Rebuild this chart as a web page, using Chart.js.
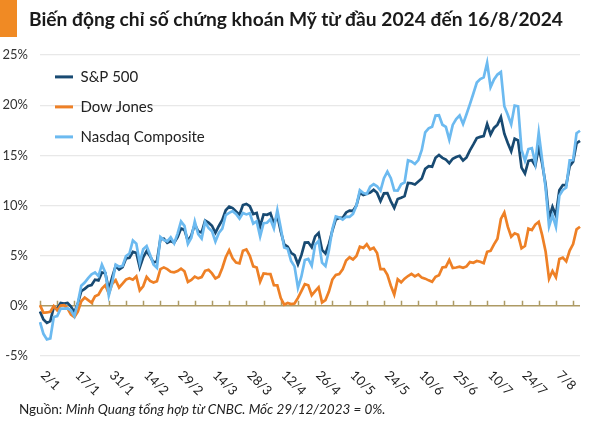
<!DOCTYPE html>
<html>
<head>
<meta charset="utf-8">
<style>
	html, body { margin: 0; padding: 0; background: #fff; }
	body { width: 602px; height: 422px; position: relative; overflow: hidden; font-family: Lato, "Noto Sans", sans-serif; }
	.wrap { position: absolute; left: 0; top: 0; width: 602px; height: 422px; }
	.bar { position: absolute; left: 0; top: 0; width: 17px; height: 37px; background: #f08a24; }
	.title { position: absolute; left: 29px; top: 7px; font-size: 19.2px; font-weight: 700; color: #1a1a1a; white-space: nowrap; }
	.note { position: absolute; left: 19px; top: 401px; font-size: 13.5px; color: #222; white-space: nowrap; }
</style>
</head>
<body>
<div class="wrap"><canvas id="chart"></canvas></div>
<div class="bar"></div>
<div class="title">Biến động chỉ số chứng khoán Mỹ từ đầu 2024 đến 16/8/2024</div>
<div class="note">Nguồn: <i>Minh Quang tổng hợp từ CNBC. Mốc 29/12/2023 = 0%.</i></div>

<script src="https://cdn.jsdelivr.net/npm/chart.js"></script>
<script>
	// trading days of 2024, by month
	var tradingDays = {
		1: [2, 3, 4, 5, 8, 9, 10, 11, 12, 16, 17, 18, 19, 22, 23, 24, 25, 26, 29, 30, 31],
		2: [1, 2, 5, 6, 7, 8, 9, 12, 13, 14, 15, 16, 20, 21, 22, 23, 26, 27, 28, 29],
		3: [1, 4, 5, 6, 7, 8, 11, 12, 13, 14, 15, 18, 19, 20, 21, 22, 25, 26, 27, 28],
		4: [1, 2, 3, 4, 5, 8, 9, 10, 11, 12, 15, 16, 17, 18, 19, 22, 23, 24, 25, 26, 29, 30],
		5: [1, 2, 3, 6, 7, 8, 9, 10, 13, 14, 15, 16, 17, 20, 21, 22, 23, 24, 28, 29, 30, 31],
		6: [3, 4, 5, 6, 7, 10, 11, 12, 13, 14, 17, 18, 20, 21, 24, 25, 26, 27, 28],
		7: [1, 2, 3, 5, 8, 9, 10, 11, 12, 15, 16, 17, 18, 19, 22, 23, 24, 25, 26, 29, 30, 31],
		8: [1, 2, 5, 6, 7, 8, 9, 12, 13, 14, 15, 16]
	};
	var labels = [];
	for (var m = 1; m <= 8; m++) {
		tradingDays[m].forEach(function (d) { labels.push(d + '/' + m); });
	}

	var labelEvery = 10; // date label every 10 sessions
	var markEvery = 5;   // small tick every 5 sessions

	// % change vs 29/12/2023
	var sp500 = [
		-0.57, -1.36, -1.70, -1.52, -0.13, -0.28, 0.29, 0.22, 0.29, -0.08,
		-0.64, 0.23, 1.47, 1.69, 1.99, 2.07, 2.61, 2.54, 3.32, 3.25,
		1.59, 2.86, 3.96, 3.63, 3.87, 4.72, 4.78, 5.38, 5.28, 3.84,
		4.84, 5.45, 4.94, 4.31, 4.44, 6.65, 6.69, 6.28, 6.46, 6.29,
		6.84, 7.70, 7.57, 6.47, 7.02, 8.12, 7.42, 7.30, 8.50, 8.29,
		7.98, 7.28, 7.96, 8.57, 9.53, 9.89, 9.74, 9.40, 9.09, 10.04,
		10.16, 9.94, 9.14, 9.26, 7.91, 9.11, 9.07, 9.23, 8.19, 9.00,
		7.41, 6.12, 5.90, 5.29, 5.06, 4.14, 5.05, 6.30, 6.33, 5.84,
		6.92, 7.26, 5.57, 5.21, 6.17, 7.50, 8.61, 8.76, 8.76, 9.31,
		9.49, 9.47, 10.00, 11.29, 11.05, 11.18, 11.29, 11.56, 11.26, 10.44,
		11.21, 11.24, 10.42, 9.76, 10.64, 10.77, 10.93, 12.25, 12.22, 12.10,
		12.39, 12.69, 13.65, 13.92, 13.87, 14.75, 15.04, 14.75, 14.57, 14.22,
		14.66, 14.84, 14.95, 14.48, 14.79, 15.50, 16.09, 16.72, 16.84, 16.92,
		18.12, 17.08, 17.73, 18.06, 18.81, 17.16, 16.24, 15.41, 16.66, 16.48,
		13.78, 13.19, 14.45, 14.54, 13.97, 15.78, 14.19, 12.09, 8.73, 9.86,
		9.01, 11.52, 12.04, 12.05, 13.93, 14.37, 16.21, 16.45
	];
	var dowJones = [
		0.07, -0.69, -0.66, -0.59, -0.02, -0.44, 0.02, 0.06, -0.26, -0.87,
		-1.12, -0.59, 0.46, 0.83, 0.57, 0.31, 0.95, 1.11, 1.71, 2.06,
		1.22, 2.20, 2.56, 1.83, 2.21, 2.62, 2.75, 2.61, 2.94, 1.55,
		1.95, 2.88, 2.49, 2.32, 2.45, 3.66, 3.83, 3.66, 3.40, 3.34,
		3.47, 3.71, 3.45, 2.38, 2.58, 2.92, 2.74, 2.86, 3.49, 3.59,
		3.23, 2.72, 2.92, 3.77, 4.84, 5.55, 4.74, 4.31, 4.23, 5.49,
		5.62, 4.98, 3.93, 3.82, 2.41, 3.22, 3.19, 3.17, 2.05, 2.04,
		0.78, 0.12, 0.29, 0.17, 0.23, 0.79, 1.46, 2.16, 2.05, 1.05,
		1.46, 1.85, 0.34, 0.57, 1.42, 2.62, 3.09, 3.17, 3.63, 4.51,
		4.84, 4.62, 4.96, 5.89, 5.78, 6.14, 5.62, 5.79, 5.26, 3.65,
		3.66, 3.09, 2.00, 1.12, 2.65, 2.34, 2.71, 2.97, 3.18, 2.94,
		3.13, 2.81, 2.71, 2.54, 2.39, 2.89, 3.04, 3.83, 3.88, 4.57,
		3.77, 3.82, 3.91, 3.79, 3.93, 4.36, 4.29, 4.47, 4.39, 4.25,
		5.39, 5.48, 6.13, 6.69, 8.66, 9.31, 7.89, 6.89, 7.23, 7.08,
		5.74, 5.96, 7.69, 7.56, 8.10, 8.37, 7.05, 5.43, 2.69, 3.47,
		2.85, 4.66, 4.80, 4.43, 5.51, 6.15, 7.62, 7.88
	];
	var nasdaq = [
		-1.63, -2.79, -3.34, -3.25, -1.12, -1.02, -0.28, -0.27, -0.26, -0.45,
		-1.04, 0.30, 2.00, 2.32, 2.76, 3.13, 3.33, 2.96, 4.11, 3.32,
		1.02, 2.33, 4.11, 3.90, 3.98, 4.96, 5.21, 6.52, 6.20, 4.29,
		5.65, 5.96, 5.09, 4.13, 3.79, 6.86, 6.56, 6.43, 6.82, 6.24,
		7.20, 8.42, 7.97, 6.18, 6.79, 8.41, 7.15, 6.71, 8.36, 7.77,
		7.44, 6.41, 7.27, 7.70, 9.05, 9.26, 9.44, 9.15, 8.69, 9.25,
		9.11, 9.23, 8.19, 8.43, 6.91, 8.24, 8.28, 8.63, 7.72, 9.53,
		7.75, 5.82, 5.69, 4.48, 3.93, 1.80, 2.93, 4.56, 4.67, 4.00,
		6.11, 6.47, 4.31, 3.96, 5.53, 7.63, 8.91, 8.80, 8.60, 8.89,
		8.86, 9.17, 9.99, 11.53, 11.24, 11.15, 11.88, 12.13, 11.92, 11.49,
		12.72, 13.38, 12.72, 11.50, 11.48, 12.11, 12.30, 14.50, 14.40, 14.14,
		14.53, 15.53, 17.30, 17.69, 17.84, 18.96, 18.99, 18.05, 17.84, 16.56,
		18.03, 18.61, 18.97, 18.13, 19.10, 20.10, 21.16, 22.26, 22.60, 22.77,
		24.22, 21.80, 22.56, 23.05, 23.30, 19.89, 19.05, 18.09, 19.96, 19.89,
		15.53, 14.46, 15.63, 15.71, 14.23, 17.24, 14.54, 11.76, 7.92, 9.03,
		7.89, 10.98, 11.55, 11.79, 14.50, 14.53, 17.21, 17.45
	];

	Chart.defaults.font.family = 'Lato, "Noto Sans", sans-serif';

	// zero line with small tick marks, and slanted date labels under the plot
	var axisPlugin = {
		id: 'axisPlugin',
		beforeDatasetsDraw: function (chart) {
			var ctx = chart.ctx, xs = chart.scales.x, ys = chart.scales.y, a = chart.chartArea;
			var y0 = ys.getPixelForValue(0);
			ctx.save();
			ctx.strokeStyle = '#ad9a64';
			ctx.lineWidth = 1.5;
			ctx.beginPath();
			ctx.moveTo(a.left, y0);
			ctx.lineTo(a.right, y0);
			for (var i = 0; i < labels.length; i += markEvery) {
				var px = Math.round(xs.getPixelForValue(i)) + 0.5;
				ctx.moveTo(px, y0);
				ctx.lineTo(px, y0 - 5);
			}
			ctx.stroke();
			ctx.restore();
		},
		afterDraw: function (chart) {
			var ctx = chart.ctx, xs = chart.scales.x, a = chart.chartArea;
			ctx.save();
			ctx.fillStyle = '#222';
			ctx.font = '13px Lato, "Noto Sans", sans-serif';
			ctx.textAlign = 'left';
			ctx.textBaseline = 'middle';
			for (var i = 0; i < labels.length; i += labelEvery) {
				ctx.save();
				ctx.translate(xs.getPixelForValue(i) + 3, a.bottom + 17);
				ctx.rotate(Math.PI / 4);
				ctx.fillText(labels[i], 0, 0);
				ctx.restore();
			}
			ctx.restore();
		}
	};

	new Chart(document.getElementById('chart'), {
		type: 'line',
		data: {
			labels: labels,
			datasets: [
				{ label: 'S&P 500', data: sp500, borderColor: '#184a72', backgroundColor: '#184a72', order: 3 },
				{ label: 'Dow Jones', data: dowJones, borderColor: '#ee8026', backgroundColor: '#ee8026', order: 2 },
				{ label: 'Nasdaq Composite', data: nasdaq, borderColor: '#6cbaf0', backgroundColor: '#6cbaf0', order: 1 }
			]
		},
		options: {
			responsive: true,
			maintainAspectRatio: false,
			animation: false,
			events: [],
			layout: { padding: { left: 0, right: 22, top: 55, bottom: 66 } },
			elements: {
				line: { borderWidth: 2.7, tension: 0, fill: false },
				point: { radius: 0 }
			},
			scales: {
				x: {
					type: 'category',
					offset: false,
					ticks: { display: false },
					grid: { display: false, drawTicks: false, tickLength: 0 },
					border: { display: false }
				},
				y: {
					min: -5,
					max: 25,
					afterFit: function (s) { s.width = 40; },
					ticks: {
						stepSize: 5,
						padding: 12,
						color: '#333',
						font: { size: 13 },
						callback: function (v) { return v + '%'; }
					},
					grid: {
						drawTicks: false,
						lineWidth: 1.3,
						color: function (c) { return c.tick && c.tick.value === 0 ? 'rgba(0,0,0,0)' : '#e8e8e8'; }
					},
					border: { display: false }
				}
			},
			plugins: {
				tooltip: { enabled: false },
				legend: {
					position: 'chartArea',
					align: 'start',
					// empty title only pushes the rows down inside the plot
					title: { display: true, text: ' ', font: { size: 12 }, padding: { top: 40, bottom: 0 } },
					labels: {
						boxWidth: 18,
						boxHeight: 3,
						padding: 15,
						color: '#222',
						font: { size: 15 },
						sort: function (a, b) { return a.datasetIndex - b.datasetIndex; },
						generateLabels: function (chart) {
							return Chart.defaults.plugins.legend.labels.generateLabels(chart).map(function (l) {
								l.fillStyle = l.strokeStyle;
								l.lineWidth = 0;
								return l;
							});
						}
					}
				}
			}
		},
		plugins: [axisPlugin]
	});
</script>
</body>
</html>
